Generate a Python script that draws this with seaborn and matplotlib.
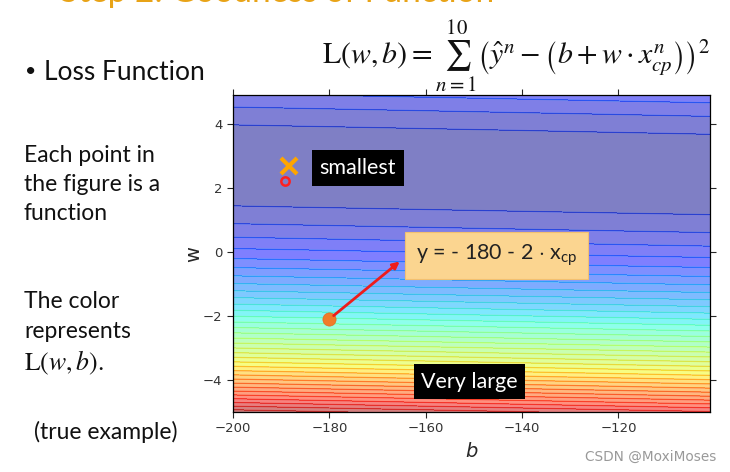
import numpy as np
import pandas as pd
import seaborn as sns
import matplotlib.pyplot as plt

# pokemon data: original cp (x) and cp after evolution (y)
x_data = [338., 333., 328., 207., 226., 25., 179., 60., 208., 606.]
y_data = [640., 633., 619., 393., 428., 27., 193., 66., 226., 1591.]

b_values = np.arange(-200, -100, 1)
w_values = np.arange(-5, 5, 0.1)

# marked points (b, w)
best_b, best_w = -188.4, 2.67
step_b, step_w = -189.2, 2.2
example_b, example_w = -180, -2.1

xticks = [-200, -180, -160, -140, -120]
yticks = [-4, -2, 0, 2, 4]

sns.set_style("ticks")
plt.rcParams["font.family"] = ["Lato", "DejaVu Sans"]
plt.rcParams["mathtext.fontset"] = "custom"
plt.rcParams["mathtext.rm"] = "Lato"
plt.rcParams["mathtext.it"] = "Lato:italic"

B, W = np.meshgrid(b_values, w_values)
xd = np.array(x_data)
yd = np.array(y_data)
Z = ((yd - B[..., None] - W[..., None] * xd) ** 2).mean(axis=-1)

fig = plt.figure(figsize=(7.3, 4.72), dpi=100)
ax = fig.add_axes([233 / 730, 1 - 412 / 472, 477 / 730, 317 / 472])

jet = plt.get_cmap("jet")
cf = ax.contourf(b_values, w_values, Z, 50, alpha=0.5, cmap=jet)
n_lev = len(cf.levels)
line_cols = [jet(min(0.9, (i + 6) / n_lev)) for i in range(n_lev)]
ax.contour(b_values, w_values, Z, levels=cf.levels, colors=line_cols,
           alpha=0.35, linewidths=0.9)

pts = pd.DataFrame({"b": [example_b], "w": [example_w]})
sns.scatterplot(data=pts, x="b", y="w", ax=ax, s=90, color="#F07C28",
                edgecolor="#E06A20", linewidth=0.5, zorder=5)
ax.plot([best_b], [best_w], "x", ms=11, mew=3, color="orange", zorder=6)
ax.plot([step_b], [step_w], "o", ms=6, mfc="none", mec="#FF2020", mew=1.8,
        zorder=6)

ax.annotate("", xy=(-165.4, -0.3), xytext=(example_b, example_w),
            arrowprops=dict(arrowstyle="-|>", color="#EE1C1C", lw=2,
                            mutation_scale=10, shrinkA=4, shrinkB=0), zorder=6)

ax.text(-174.1, 2.62, "smallest", color="white", fontsize=15.5, ha="center",
        va="center", bbox=dict(boxstyle="square,pad=0.35", fc="black", ec="none"),
        zorder=7)
ax.text(-150.9, -4.06, "Very large", color="white", fontsize=15.5, ha="center",
        va="center", bbox=dict(boxstyle="square,pad=0.35", fc="black", ec="none"),
        zorder=7)
ax.text(-145.3, -0.1, r"y = - 180 - 2 $\cdot$ x$_{\mathrm{cp}}$", color="#222222",
        fontsize=15.5, ha="center", va="center",
        bbox=dict(boxstyle="square,pad=0.5", fc="#FBD590", ec="#F2C070", lw=0.8),
        zorder=7)

ax.set_xlim(-200, -101)
ax.set_ylim(-5, 4.9)
ax.set_xticks(xticks)
ax.set_yticks(yticks)
ax.set_xticklabels([f"\u2212{abs(t)}" for t in xticks], family="DejaVu Sans",
                   fontsize=9.5, color="#333333")
ax.set_yticklabels([f"\u2212{abs(t)}" if t < 0 else str(t) for t in yticks],
                   family="DejaVu Sans", fontsize=9.5, color="#333333")
ax.tick_params(top=True, right=True, direction="out", length=4, width=0.8)
ax.set_xlabel("b", family="DejaVu Sans", style="italic", fontsize=14, labelpad=5)
ax.set_ylabel("w", family="DejaVu Sans", fontsize=14, labelpad=0)
for s in ax.spines.values():
    s.set_linewidth(0.9)
    s.set_color("black")


def px(x, y):
    return x / 730, 1 - y / 472


# slide text (title cut off at the top edge, as on the slide)
fig.text(*px(60, -7), "Step 2: Goodness of Function", color="#E8A317",
         fontsize=24, va="center")
fig.text(*px(25, 72), "\u2022", fontsize=14, va="center", color="#111111")
fig.text(*px(44, 72), "Loss Function", fontsize=19, va="center",
         color="#111111")
for i, line in enumerate(["Each point in", "the figure is a", "function"]):
    fig.text(*px(24, 155 + 29.5 * i), line, fontsize=16.5, va="center",
             color="#111111")
for i, line in enumerate(["The color", "represents"]):
    fig.text(*px(24, 301 + 31 * i), line, fontsize=16.5, va="center",
             color="#111111")
fig.text(*px(24, 363), r"$\mathrm{L}(w,b).$", fontsize=18.5, va="center",
         color="#111111", math_fontfamily="stix")
fig.text(*px(34, 432), "(true example)", fontsize=16.5, va="center",
         color="#111111")
fig.text(*px(322, 56),
         r"$\mathrm{L}(w,b)=\sum_{n=1}^{10}\left(\hat{y}^n-\left(b+w\cdot x_{cp}^n\right)\right)^2$",
         fontsize=21.5, va="center", color="#111111", math_fontfamily="stix")
fig.text(*px(585, 457), "CSDN @MoxiMoses", fontsize=9.8, va="center",
         color="#999999", family="DejaVu Sans")

fig.savefig("out.png", dpi=100)
